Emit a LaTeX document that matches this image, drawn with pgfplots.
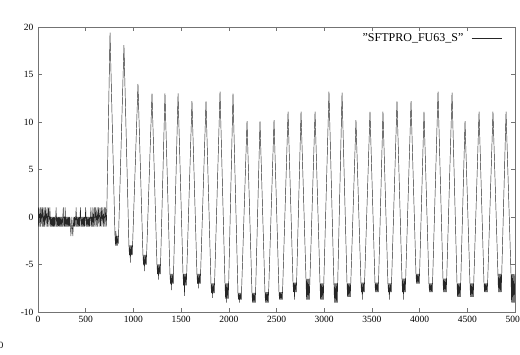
\documentclass[border=0pt]{standalone}
\usepackage{fontspec}
\setmainfont{Liberation Serif}
\usepackage{pgfplots}
\pgfplotsset{compat=1.18}
\begin{document}
\begin{tikzpicture}
\begin{axis}[
  scale only axis, width=477pt, height=285pt,
  xmin=0, xmax=5000, ymin=-10, ymax=20,
  xtick distance=500, ytick distance=5,
  enlargelimits=false,
  axis line style={black!55, line width=0.6pt},
  tick style={black!55, line width=0.6pt},
  tick align=inside, major tick length=4pt,
  tick label style={font=\fontsize{9.5}{10}\selectfont},
  /pgf/number format/assume math mode=true,
  /pgf/number format/.cd, set thousands separator={}, /pgfplots/.cd,
  xticklabel style={yshift=-1pt},
  yticklabel style={xshift=-1pt},
  legend plot pos=right,
  legend image code/.code={\path (0pt,0pt); \draw[#1] (6pt,0pt) -- (36pt,0pt);},
  legend style={draw=none, fill=none, at={(1,1)}, anchor=north east,
    xshift=-10pt, yshift=-2pt, font=\fontsize{12}{13}\selectfont},
  legend cell align=right,
]
\addplot[black!85, line width=0.45pt] coordinates {
(0,1)(5,-1)(10,1)(15,0)(20,-1)(25,1)(30,-1)(35,0)(40,1)(45,-1)(50,1)(55,0)(60,-1)(65,1)(70,-1)(75,0)(80,1)(85,-1)(90,0)(95,1)(100,-1)(105,0)(110,1)(115,-1)(120,0)(125,1)(130,-1)(135,0)(140,-1)(145,0)(150,-1)(155,0)(160,-1)(165,0)(170,-1)(175,0)(180,-1)(185,0)(190,1)(195,-1)(200,0)(205,-1)(210,0)(215,-1)(220,0)(225,-1)(230,0)(235,-1)(240,0)(245,-1)(250,0)(255,-1)(260,0)(265,1)(270,-1)(275,0)(280,-1)(285,1)(290,-1)(295,0)(300,-1)(305,0)(310,-1)(315,0)(320,-1)(325,0)(330,-1)(335,0)(340,-1)(345,-2)(350,-1)(355,0)(360,-1)(365,-2)(370,-1)(375,0)(380,-1)(385,0)(390,-1)(395,0)(400,1)(405,-1)(410,0)(415,-1)(420,0)(425,-1)(430,0)(435,-1)(440,0)(445,1)(450,-1)(455,0)(460,-1)(465,0)(470,-1)(475,0)(480,-1)(485,0)(490,-1)(495,0)(500,1)(505,-1)(510,0)(515,-1)(520,0)(525,-1)(530,0)(535,-1)(540,0)(545,-1)(550,0)(555,1)(560,-1)(565,0)(570,-1)(575,1)(580,-1)(585,0)(590,1)(595,-1)(600,0)(605,1)(610,-1)(615,0)(620,1)(625,-1)(630,0)(635,1)(640,-1)(645,0)(650,1)(655,-1)(660,0)(665,1)(670,-1)(675,0)(680,1)(685,-1)(690,0)(695,1)(700,-1)(705,0)(710,1)(715,-1)(720,0)
(755,19.4)(807,-2)(812,-3)(817,-1.5)(822,-3)(827,-2)(832,-3)(837,-2)(842,-2.8)
(901,18.1)(953,-3)(958,-4)(963,-3)(968,-4.8)(973,-3)(978,-4)(983,-3)(988,-4)
(1048,14)(1100,-4)(1105,-5)(1110,-4)(1115,-5.7)(1120,-4)(1125,-5)(1130,-4)(1135,-5)
(1195,13)(1247,-5)(1252,-6)(1257,-5)(1262,-6.6)(1267,-5)(1272,-6)(1277,-5)(1282,-6)
(1331,13)(1383,-6)(1388,-7)(1393,-6)(1398,-7.7)(1403,-6)(1408,-7)(1413,-6)(1418,-7)
(1468,13)(1520,-6)(1525,-7.2)(1530,-6)(1535,-8.3)(1540,-6)(1545,-7.2)(1550,-6)(1555,-7.2)
(1614,12.2)(1666,-6)(1671,-7)(1676,-6)(1681,-7.5)(1686,-6)(1691,-7)(1696,-6)(1701,-7)
(1761,12.2)(1813,-7)(1818,-8)(1823,-7)(1828,-8.5)(1833,-7)(1838,-8)(1843,-7)(1848,-8)
(1908,13.2)(1960,-7)(1965,-8.6)(1970,-7)(1975,-9)(1980,-7)(1985,-8.6)(1990,-7)(1995,-8.6)
(2044,13)(2096,-8)(2101,-8.7)(2106,-8)(2111,-9)(2116,-8)(2121,-8.7)(2126,-8)(2131,-8.7)
(2191,10.1)(2243,-8)(2248,-9)(2253,-8)(2258,-9)(2263,-8)(2268,-9)(2273,-8)(2278,-9)
(2327,10.1)(2379,-7.9)(2384,-9)(2389,-7.9)(2394,-9)(2399,-7.9)(2404,-9)(2409,-7.9)(2414,-9)
(2474,10.2)(2526,-7.9)(2531,-8.7)(2536,-7.9)(2541,-8.7)(2546,-7.9)(2551,-8.7)(2556,-7.9)(2561,-8.7)
(2621,11.1)(2673,-6.9)(2678,-7.9)(2683,-6.9)(2688,-8.7)(2693,-6.9)(2698,-7.9)(2703,-6.9)(2708,-7.9)
(2757,11.1)(2809,-6.5)(2814,-8.7)(2819,-6.5)(2824,-8.7)(2829,-6.5)(2834,-8.7)(2839,-6.5)(2844,-8.7)
(2904,11.1)(2956,-7)(2961,-8.7)(2966,-7)(2971,-8.7)(2976,-7)(2981,-8.7)(2986,-7)(2991,-8.7)
(3050,13.2)(3102,-7)(3107,-9)(3112,-7)(3117,-9)(3122,-7)(3127,-9)(3132,-7)(3137,-9)
(3187,13.1)(3239,-7)(3244,-8.4)(3249,-7)(3254,-8.4)(3259,-7)(3264,-8.4)(3269,-7)(3274,-8.4)
(3333,10.2)(3385,-6.9)(3390,-7.9)(3395,-6.9)(3400,-8.7)(3405,-6.9)(3410,-7.9)(3415,-6.9)(3420,-7.9)
(3480,11.1)(3532,-6.9)(3537,-7.9)(3542,-6.9)(3547,-7.9)(3552,-6.9)(3557,-7.9)(3562,-6.9)(3567,-7.9)
(3616,11.1)(3668,-7)(3673,-7.9)(3678,-7)(3683,-8.7)(3688,-7)(3693,-7.9)(3698,-7)(3703,-7.9)
(3763,12.2)(3815,-6.5)(3820,-7.9)(3825,-6.5)(3830,-8.7)(3835,-6.5)(3840,-7.9)(3845,-6.5)(3850,-7.9)
(3910,12.2)(3962,-6)(3967,-7)(3972,-6)(3977,-7)(3982,-6)(3987,-7)(3992,-6)(3997,-7)
(4046,11.1)(4098,-7)(4103,-7.9)(4108,-7)(4113,-7.9)(4118,-7)(4123,-7.9)(4128,-7)(4133,-7.9)
(4193,13.2)(4245,-6.5)(4250,-7.9)(4255,-6.5)(4260,-7.9)(4265,-6.5)(4270,-7.9)(4275,-6.5)(4280,-7.9)
(4340,13.1)(4392,-7)(4397,-8.4)(4402,-7)(4407,-8.4)(4412,-7)(4417,-8.4)(4422,-7)(4427,-8.4)
(4476,10.1)(4528,-7)(4533,-8.4)(4538,-7)(4543,-8.4)(4548,-7)(4553,-8.4)(4558,-7)(4563,-8.4)
(4623,11.1)(4675,-7)(4680,-7.9)(4685,-7)(4690,-7.9)(4695,-7)(4700,-7.9)(4705,-7)(4710,-7.9)
(4769,11.1)(4821,-6)(4826,-7.9)(4831,-6)(4836,-7.9)(4841,-6)(4846,-7.9)(4851,-6)(4856,-7.9)
(4906,11.1)(4958,-6)(4963,-9)(4968,-6)(4973,-9)(4978,-6)(4983,-9)(4988,-6)(4993,-9)(5000,-6)
};
\addlegendentry{\char34 SFTPRO\_FU63\_S\char34}
\coordinate (sw) at (rel axis cs:0,0);
\coordinate (ne) at (rel axis cs:1,1);
\end{axis}
\node[font=\fontsize{9.5}{10}\selectfont] at ([shift={(-37pt,-33pt)}]sw) {0};
\pgfresetboundingbox
\path ([shift={(-38pt,-42pt)}]sw) rectangle ([shift={(5pt,27pt)}]ne);
\end{tikzpicture}
\end{document}
